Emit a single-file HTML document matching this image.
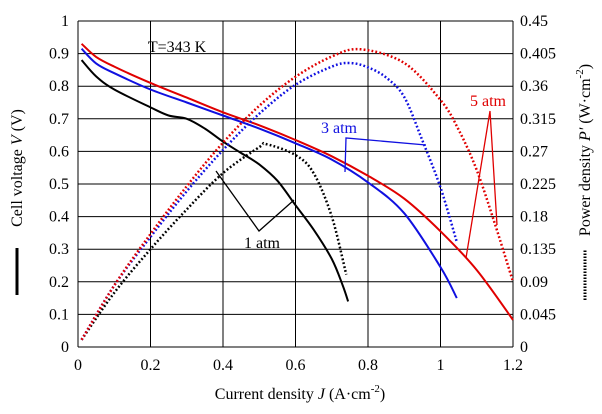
<!DOCTYPE html>
<html><head><meta charset="utf-8"><style>
body{margin:0;background:#fff}
svg{display:block;font-family:"Liberation Serif",serif}
</style></head><body>
<svg id="chart" width="602" height="414" viewBox="0 0 602 414" xmlns="http://www.w3.org/2000/svg">
<g id="grid"></g>
<g id="series"></g>
<g id="ticks" font-size="16"></g>
<text x="177" y="52" font-size="16" text-anchor="middle">T=343 K</text>
<g>
<polyline points="216,171 259,231 294,200" fill="none" stroke="#000" stroke-width="1.3"/>
<text x="262" y="248" font-size="16" text-anchor="middle">1 atm</text></g>
<g>
<polyline points="345,172 346,138 426,145" fill="none" stroke="#1010e0" stroke-width="1.3"/>
<text x="339" y="133" font-size="16" fill="#1010e0" text-anchor="middle">3 atm</text></g>
<g>
<polyline points="466,258 490,111 497,225" fill="none" stroke="#e00000" stroke-width="1.3"/>
<text x="488" y="106" font-size="16" fill="#e00000" text-anchor="middle">5 atm</text></g>
<text x="300" y="399" font-size="16" text-anchor="middle">Current density <tspan font-style="italic">J</tspan> (A·cm<tspan dy="-7" font-size="11">-2</tspan><tspan dy="7">)</tspan></text>
<g transform="translate(22,168) rotate(-90)">
<text x="0" y="0" font-size="16" text-anchor="middle">Cell voltage <tspan font-style="italic">V</tspan> (V)</text>
<line x1="-127" y1="-5" x2="-80" y2="-5" stroke="#000" stroke-width="3"/></g>
<g transform="translate(590,150) rotate(-90)">
<text x="0" y="0" font-size="16" text-anchor="middle">Power density <tspan font-style="italic">P'</tspan> (W·cm<tspan dy="-7" font-size="11">-2</tspan><tspan dy="7">)</tspan></text>
<line x1="-150" y1="-5" x2="-100" y2="-5" stroke="#000" stroke-width="3" stroke-dasharray="1.5,1.5"/></g>
</svg>
<script>
const xTicks=[0,0.2,0.4,0.6,0.8,1,1.2];
const vTicks=[0,0.1,0.2,0.3,0.4,0.5,0.6,0.7,0.8,0.9,1];
const pTickLabels=["0","0.045","0.09","0.135","0.18","0.225","0.27","0.315","0.36","0.405","0.45"];
const j1V=[0.01,0.05,0.1,0.2,0.25,0.3,0.35,0.4,0.45,0.5,0.55,0.6,0.65,0.7,0.73,0.745];
const v1=[0.88,0.83,0.79,0.735,0.71,0.70,0.67,0.63,0.595,0.56,0.51,0.435,0.36,0.27,0.19,0.14];
const j3V=[0.01,0.05,0.1,0.2,0.3,0.4,0.5,0.6,0.7,0.8,0.9,1.0,1.045];
const v3=[0.915,0.87,0.84,0.79,0.75,0.71,0.67,0.625,0.575,0.505,0.41,0.245,0.15];
const j5V=[0.01,0.05,0.1,0.2,0.3,0.4,0.5,0.6,0.7,0.8,0.9,1.0,1.1,1.2];
const v5=[0.93,0.89,0.86,0.81,0.765,0.72,0.68,0.635,0.585,0.525,0.455,0.355,0.236,0.083];
const j1P=[0.01,0.1,0.2,0.3,0.4,0.5,0.52,0.6,0.65,0.7,0.74];
const p1=[0.01,0.075,0.135,0.19,0.24,0.276,0.28,0.265,0.24,0.18,0.10];
const j3P=[0.01,0.1,0.2,0.3,0.4,0.5,0.6,0.7,0.75,0.8,0.85,0.9,0.95,1.0,1.045];
const p3=[0.01,0.085,0.152,0.215,0.272,0.322,0.362,0.387,0.392,0.386,0.372,0.345,0.285,0.22,0.145];
const j5P=[0.01,0.1,0.2,0.3,0.4,0.5,0.6,0.7,0.78,0.9,1.0,1.05,1.1,1.15,1.2];
const p5=[0.01,0.085,0.156,0.222,0.282,0.333,0.373,0.401,0.411,0.392,0.341,0.30,0.244,0.17,0.09];
const X0=78,X1=513,Y0=347,Y1=21;
const sx=v=>X0+(v/1.2)*(X1-X0);
const sv=v=>Y0-(v/1)*(Y0-Y1);
const sp=v=>Y0-(v/0.45)*(Y0-Y1);
const NS="http://www.w3.org/2000/svg";
function mk(tag,parent,attrs){const e=document.createElementNS(NS,tag);for(const k in attrs)e.setAttribute(k,attrs[k]);parent.appendChild(e);return e;}
const grid=document.getElementById('grid'),ticks=document.getElementById('ticks'),series=document.getElementById('series');
xTicks.forEach(t=>{const l=mk('line',grid,{x1:sx(t),x2:sx(t),y1:Y1,y2:Y0,stroke:'#000','stroke-width':1});

const tx=mk('text',ticks,{x:sx(t),y:Y0+23,'text-anchor':'middle'});tx.textContent=String(t);
});
vTicks.forEach((t,i)=>{const l=mk('line',grid,{x1:X0,x2:X1,y1:sv(t),y2:sv(t),stroke:'#000','stroke-width':1});

const tx=mk('text',ticks,{x:X0-9,y:sv(t)+5,'text-anchor':'end'});tx.textContent=String(t);

const tr=mk('text',ticks,{x:X1+7,y:sv(t)+5,'text-anchor':'start'});tr.textContent=pTickLabels[i];
});
function smooth(p){let d='M'+p[0][0].toFixed(1)+','+p[0][1].toFixed(1);
for(let i=0;i<p.length-1;i++){const a=p[i-1]||p[i],b=p[i],c=p[i+1],e=p[i+2]||c;
const c1=[b[0]+(c[0]-a[0])/6,b[1]+(c[1]-a[1])/6],c2=[c[0]-(e[0]-b[0])/6,c[1]-(e[1]-b[1])/6];
d+=' C'+c1[0].toFixed(1)+','+c1[1].toFixed(1)+' '+c2[0].toFixed(1)+','+c2[1].toFixed(1)+' '+c[0].toFixed(1)+','+c[1].toFixed(1);}
return d;}
function line(xs,ys,scale,color,dotted,name){
const pts=xs.map((x,i)=>[sx(x),scale(ys[i])]);
const a={d:smooth(pts),fill:'none',stroke:color,'stroke-width':dotted?2.5:2,'stroke-linejoin':'round'};
if(dotted)a['stroke-dasharray']='1.8,2.2';
const e=mk('path',series,a);

}
line(j1V,v1,sv,'#000',false,'voltage-1atm');
line(j3V,v3,sv,'#1010e0',false,'voltage-3atm');
line(j5V,v5,sv,'#e00000',false,'voltage-5atm');
line(j1P,p1,sp,'#000',true,'power-1atm');
line(j3P,p3,sp,'#1010e0',true,'power-3atm');
line(j5P,p5,sp,'#e00000',true,'power-5atm');
</script>
</body></html>
